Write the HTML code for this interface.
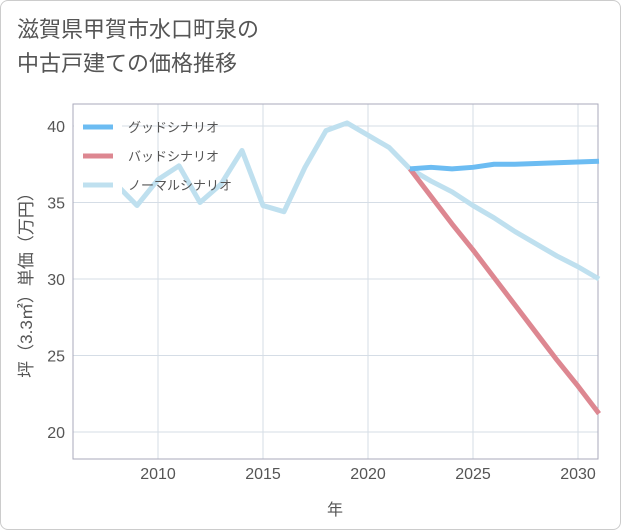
<!DOCTYPE html>
<html><head><meta charset="utf-8"><style>
body{margin:0;background:#fff;font-family:"Liberation Sans","Noto Sans CJK JP",sans-serif;}
#wrap{position:relative;width:619px;height:528px;border:1px solid #ccc;border-radius:8px;overflow:hidden;background:#fff}
#title{position:absolute;left:16px;top:12px;font-size:22px;line-height:34px;color:#555;}
svg{position:absolute;left:0;top:0}
</style></head><body>
<div id="wrap">
<div id="title">滋賀県甲賀市水口町泉の<br>中古戸建ての価格推移</div>
<svg id="chart" width="621" height="530"></svg>
</div>
<script>
const years=[2008,2009,2010,2011,2012,2013,2014,2015,2016,2017,2018,2019,2020,2021,2022,2023,2024,2025,2026,2027,2028,2029,2030,2031];
const normal=[36.2,34.8,36.5,37.4,35.0,36.2,38.4,34.8,34.4,37.3,39.7,40.2,39.4,38.6,37.2,36.4,35.7,34.8,34.0,33.1,32.3,31.5,30.8,30.0];
const goodYears=[2022,2023,2024,2025,2026,2027,2028,2029,2030,2031];
const good=[37.2,37.3,37.2,37.3,37.5,37.5,37.55,37.6,37.65,37.7];
const bad=[37.2,35.4,33.6,31.9,30.1,28.3,26.5,24.7,23.0,21.2];
const xTicks=[2010,2015,2020,2025,2030];
const yTicks=[20,25,30,35,40];
const NS="http://www.w3.org/2000/svg";
const svg=document.getElementById('chart');
const L=72,R=597,T=103,B=458;
const x=v=>157+(v-2010)*21;
const y=v=>431-(v-20)*15.3;
function mk(t,a){const e=document.createElementNS(NS,t);for(const k in a)e.setAttribute(k,a[k]);svg.appendChild(e);return e;}
xTicks.forEach(v=>{
const g=mk('line',{x1:x(v),x2:x(v),y1:T,y2:B,stroke:'#d5dde6','stroke-width':1});


const t=mk('text',{x:x(v),y:478,'text-anchor':'middle','font-size':16,fill:'#555'});t.textContent=v;


});
yTicks.forEach(v=>{
const g=mk('line',{x1:L,x2:R,y1:y(v),y2:y(v),stroke:'#d5dde6','stroke-width':1});


const t=mk('text',{x:64,y:y(v)+6,'text-anchor':'end','font-size':16,fill:'#555'});t.textContent=v;


});
const fr=mk('rect',{x:L,y:T,width:R-L,height:B-T,fill:'none',stroke:'#aab','stroke-width':1});


function line(xs,ys,c,name){
const p=mk('polyline',{points:xs.map((v,i)=>x(v)+','+y(ys[i])).join(' '),fill:'none',stroke:c,'stroke-width':5,'stroke-linejoin':'round'});


}
line(years,normal,'#bfe0ef','normal-scenario-line');
line(goodYears,bad,'#dd8791','bad-scenario-line');
line(goodYears,good,'#6cbcf2','good-scenario-line');
const lb=mk('rect',{x:73,y:104,width:48,height:92,fill:'#fff'});


[['グッドシナリオ','#6cbcf2'],['バッドシナリオ','#dd8791'],['ノーマルシナリオ','#bfe0ef']].forEach((d,i)=>{
const yy=126+i*29;
const s=mk('line',{x1:82,x2:112,y1:yy,y2:yy,stroke:d[1],'stroke-width':5});


const t=mk('text',{x:127,y:yy+5,'font-size':13,fill:'#555'});t.textContent=d[0];


});
const xt=mk('text',{x:334,y:514,'text-anchor':'middle','font-size':16,fill:'#555'});xt.textContent='年';


const yt=mk('text',{x:0,y:0,'text-anchor':'middle','font-size':17,fill:'#555',transform:'translate(31,280) rotate(-90)'});yt.textContent='坪（3.3㎡）単価（万円）';


</script>
</body></html>
